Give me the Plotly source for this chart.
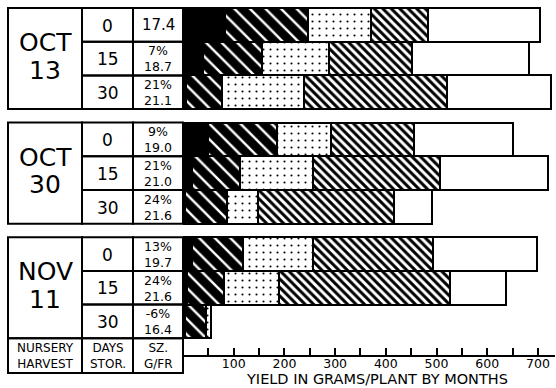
import plotly.graph_objects as go

# ---------------- data ----------------
harvest_month = ["OCT", "OCT", "NOV"]
harvest_day = ["13", "30", "11"]
days_stor = ["0", "15", "30"]
pct_change = ["", "7%", "21%", "9%", "21%", "24%", "13%", "24%", "-6%"]
size_gfr = ["17.4", "18.7", "21.1", "19.0", "21.0", "21.6", "19.7", "21.6", "16.4"]

# yield (g/plant) added in each month, rows in order top -> bottom
month1 = [83, 39, 5, 49, 18, 4, 18, 8, 4]
month2 = [164, 117, 71, 136, 94, 82, 100, 73, 41]
month3 = [124, 132, 162, 107, 144, 61, 138, 108, 10]
month4 = [112, 164, 282, 164, 251, 270, 237, 338, 0]
month5 = [221, 230, 205, 195, 213, 75, 205, 110, 0]

tick_values = [100, 200, 300, 400, 500, 600, 700]
tick_labels = ["100", "200", "300", "400", "500", "600", "700"]
x_title = "YIELD IN GRAMS/PLANT BY MONTHS"
header = ["NURSERY<br>HARVEST", "DAYS<br>STOR.", "SZ.<br>G/FR"]

# ---------------- geometry ----------------
W, H = 556, 388
ML, MR, MT, MB = 183, 1, 4, 33
GROUP_STEP = 3.4           # rows per group incl. gap
Y_TOP, Y_BOT = -0.619, 9.796
X_MAX = 733.7
FONT = "DejaVu Sans"

ypos = [g * GROUP_STEP + r for g in range(3) for r in range(3)]

plot_w = W - ML - MR
plot_h = H - MT - MB


def px_x(px):
    """pixel x -> paper x"""
    return (px - ML) / plot_w


def px_y(px):
    """pixel y -> paper y"""
    return (H - MB - px) / plot_h


def py(y):
    """data y -> paper y"""
    return (Y_BOT - y) / (Y_BOT - Y_TOP)


COL_EDGES = [px_x(8), px_x(82), px_x(133), 0.0]

fig = go.Figure()

styles = [
    dict(color="black"),
    dict(color="black", pattern=dict(shape="\\", bgcolor="black", fgcolor="white",
                                     size=11, solidity=0.22, fillmode="replace")),
    dict(color="white", pattern=dict(shape=".", bgcolor="white", fgcolor="black",
                                     size=7, solidity=0.07, fillmode="replace")),
    dict(color="white", pattern=dict(shape="\\", bgcolor="white", fgcolor="black",
                                     size=6, solidity=0.5, fillmode="replace")),
    dict(color="white"),
]
for i, (vals, st) in enumerate(zip([month1, month2, month3, month4, month5], styles)):
    fig.add_trace(go.Bar(
        x=vals, y=ypos, orientation="h", width=1,
        name=f"Month {i + 1}",
        marker=dict(line=dict(color="black", width=2), **st),
        hoverinfo="x+name",
    ))

shapes = []
annotations = []
line = dict(color="black", width=2)


def label(x, y, text, size):
    annotations.append(dict(xref="paper", yref="paper", x=x, y=y, text=text,
                            showarrow=False, xanchor="center", yanchor="middle",
                            borderpad=0,
                            font=dict(family=FONT, size=size, color="black")))


for g in range(3):
    top = g * GROUP_STEP - 0.5
    bot = top + 3
    shapes.append(dict(type="rect", xref="paper", yref="paper",
                       x0=COL_EDGES[0], x1=COL_EDGES[1], y0=py(bot), y1=py(top), line=line))
    cx = (COL_EDGES[0] + COL_EDGES[1]) / 2
    mid = (top + bot) / 2
    label(cx, py(mid - 0.47), harvest_month[g], 25)
    label(cx, py(mid + 0.35), harvest_day[g], 25)
    for r in range(3):
        k = g * 3 + r
        y0 = ypos[k] - 0.5
        y1 = ypos[k] + 0.5
        for c in (1, 2):
            shapes.append(dict(type="rect", xref="paper", yref="paper",
                               x0=COL_EDGES[c], x1=COL_EDGES[c + 1],
                               y0=py(y1), y1=py(y0), line=line))
        label((COL_EDGES[1] + COL_EDGES[2]) / 2, py(ypos[k] + 0.02), days_stor[r], 17)
        cx3 = (COL_EDGES[2] + COL_EDGES[3]) / 2
        if pct_change[k]:
            label(cx3, py(ypos[k] + 0.01), pct_change[k] + "<br>" + size_gfr[k], 12.5)
        else:
            label(cx3, py(ypos[k]), size_gfr[k], 15)

# header row
htop = 2 * GROUP_STEP + 2.5
hbot = htop + 1.03
for c in range(3):
    shapes.append(dict(type="rect", xref="paper", yref="paper",
                       x0=COL_EDGES[c], x1=COL_EDGES[c + 1],
                       y0=py(hbot), y1=py(htop), line=line))
    cx = (COL_EDGES[c] + COL_EDGES[c + 1]) / 2
    label(cx, py((htop + hbot) / 2), header[c], 12)

label(px_x(377), px_y(379), x_title, 14.5)

fig.update_layout(
    width=W, height=H,
    margin=dict(l=ML, r=MR, t=MT, b=MB, pad=0),
    barmode="stack", bargap=0,
    showlegend=False,
    plot_bgcolor="white", paper_bgcolor="white",
    shapes=shapes, annotations=annotations,
    xaxis=dict(range=[0, X_MAX], showgrid=False, zeroline=False,
               showline=True, linecolor="black", linewidth=2,
               ticks="inside", ticklen=7, tickwidth=1.5, tickcolor="black",
               tickvals=tick_values, ticktext=tick_labels,
               ticklabelstandoff=-4,
               tickfont=dict(family=FONT, size=12.5, color="black"),
               minor=dict(dtick=50, tick0=0, ticks="inside", ticklen=7,
                          tickwidth=1.5, tickcolor="black")),
    yaxis=dict(range=[Y_BOT, Y_TOP], visible=False, fixedrange=True),
)

fig.write_html("out.html", config={"displayModeBar": False},
               post_script="document.body.style.margin='0px';document.body.style.padding='0px';")
